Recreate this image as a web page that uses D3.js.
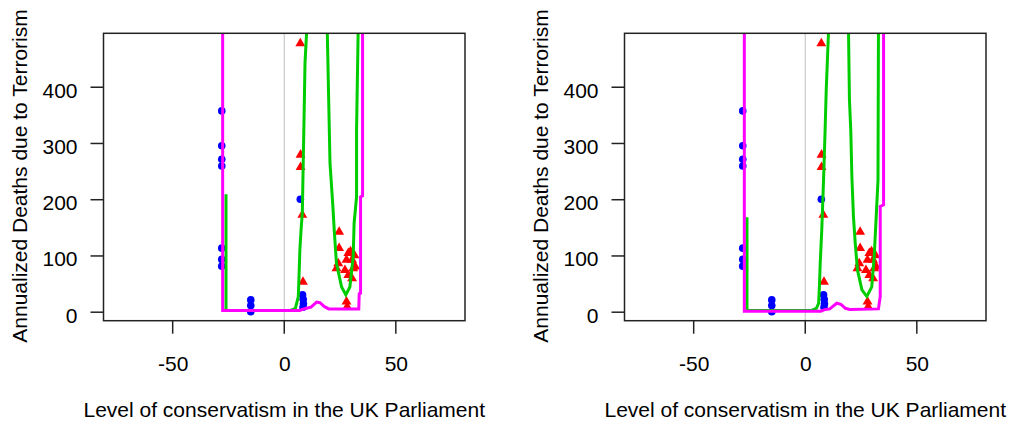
<!DOCTYPE html>
<html>
<head>
<meta charset="utf-8">
<script src="https://cdn.jsdelivr.net/npm/d3@7"></script>
<style>
  body { margin: 0; background: #fff; }
  text { font-family: "Liberation Sans", Arial, sans-serif; fill: #000; }
</style>
</head>
<body>
<div id="chart"></div>
<script>
// Tick labels
const xTicks = [-50, 0, 50];
const yTicks = [0, 100, 200, 300, 400];

// Observed points (same in both panels)
const blueX = [-28, -28, -28, -28, -28, -28, -28, -15, -15, -15, 7.2, 8.2, 8.5, 8.6, 8.4];
const blueY = [357, 295, 271, 259, 113, 93, 81, 21, 11, 0, 200, 30, 22, 14, 8];
const redX = [7.2, 7.3, 7.3, 8.1, 8.4, 24.6, 24.6, 24.2, 23.4, 28.7, 29.7, 27.9, 30.4, 27.2, 28.7, 30.9, 30.4, 27.9, 28.2, 31.5, 31.8];
const redY = [477, 279, 257, 172, 53, 142, 113, 86, 77, 104, 107, 92, 92, 74, 65, 77, 59, 18, 9, 100, 80];

// Fitted curves, left panel
const greenA1 = [[-26.1, 209], [-26.1, 2], [2.5, 2], [5, 6], [6.3, 27], [6.6, 60], [7.0, 110], [7.6, 150], [8.1, 175], [8.3, 220], [8.5, 264], [8.9, 350], [9.3, 442], [10, 495], [10.3, 520]];
const greenB1 = [[19.2, 520], [19.3, 495], [19.7, 418], [20.5, 264], [21.7, 193], [22.4, 145], [23.4, 86], [25.7, 44], [27.6, 30], [29.4, 44], [30.9, 98], [31.3, 157], [32.4, 204], [32.4, 323], [33.1, 495], [33.2, 520]];
const magenta1 = [[-27.6, 520], [-27.6, 2], [7, 2], [8, 4], [10, 6], [12, 8], [14.5, 17], [16, 16], [18, 9], [20, 5], [33.4, 5], [33.6, 32], [34.2, 33], [34.2, 204], [35.1, 206], [35.1, 520]];

// Fitted curves, right panel
const greenA2 = [[-26.1, 168], [-26.1, 2], [2.5, 2], [5, 6], [6.0, 15], [6.4, 50], [6.7, 86], [7.4, 145], [8.2, 234], [8.9, 323], [9.4, 394], [10.4, 495], [10.6, 520]];
const greenB2 = [[19.3, 520], [19.4, 495], [19.8, 377], [20.4, 323], [20.9, 240], [21.6, 169], [22.4, 122], [23.4, 74], [25.4, 39], [27.6, 27], [29.8, 44], [30.9, 98], [31.8, 169], [32.6, 234], [32.8, 495], [32.9, 520]];
const magenta2 = [[-27.3, 520], [-27.3, 1], [7, 1], [9, 4], [11, 5], [14.1, 15], [16, 13], [18, 6], [20, 4], [32.8, 5], [33.6, 27], [33.6, 187], [35.1, 190], [35.1, 520]];

const W = 1010, H = 423;
const font = '"Liberation Sans", Arial, sans-serif';
const svg = d3.select('#chart').append('svg').attr('width', W).attr('height', H);

function panel(offsetX, greenA, greenB, magenta, id) {
    const left = 103.5 + offsetX, right = 465 + offsetX;
    const top = 33.3, bottom = 320.7;

    const x = d3.scaleLinear().domain([-81, 81]).range([left, right]);
    const y = d3.scaleLinear().domain([-16, 495]).range([bottom, top]);

    svg.append('clipPath').attr('id', id)
        .append('rect').attr('x', left).attr('y', top)
        .attr('width', right - left).attr('height', bottom - top);

    const g = svg.append('g').attr('clip-path', `url(#${id})`);

    // zero line
    g.append('line')
        .attr('x1', x(0)).attr('x2', x(0))
        .attr('y1', top).attr('y2', bottom)
        .attr('stroke', '#bebebe').attr('stroke-width', 1);

    // points
    g.selectAll('.blue').data(d3.range(blueX.length)).enter()
        .append('circle')
        .attr('cx', i => x(blueX[i])).attr('cy', i => y(blueY[i]))
        .attr('r', 3.8).attr('fill', '#0000ff');

    g.selectAll('.red').data(d3.range(redX.length)).enter()
        .append('path')
        .attr('d', d3.symbol().type(d3.symbolTriangle).size(42))
        .attr('transform', i => `translate(${x(redX[i])},${y(redY[i])})`)
        .attr('fill', '#ff0000');

    // curves
    const line = d3.line().x(d => x(d[0])).y(d => y(d[1]));
    [[greenA, '#00cd00'], [greenB, '#00cd00'], [magenta, '#ff00ff']].forEach(([pts, col]) => {
        g.append('path').attr('d', line(pts))
            .attr('fill', 'none').attr('stroke', col).attr('stroke-width', 3);
    });

    // box
    svg.append('rect').attr('x', left).attr('y', top)
        .attr('width', right - left).attr('height', bottom - top)
        .attr('fill', 'none').attr('stroke', '#222').attr('stroke-width', 1.5);

    // x axis
    const xAxis = d3.axisBottom(x).tickValues(xTicks).tickSize(13).tickPadding(22).tickFormat(d => String(d));
    const xa = svg.append('g').attr('transform', `translate(0,${bottom})`).call(xAxis);
    xa.select('.domain').remove();
    xa.selectAll('.tick line').remove();
    xa.selectAll('text').attr('font-size', 21).attr('font-family', font).attr('fill', '#000');
    // tick marks drawn explicitly
    svg.append('g').selectAll('line').data(xTicks).enter()
        .append('line')
        .attr('x1', d => x(d)).attr('x2', d => x(d))
        .attr('y1', bottom).attr('y2', bottom + 13)
        .attr('stroke', '#222').attr('stroke-width', 1.5);

    // y axis
    const yAxis = d3.axisLeft(y).tickValues(yTicks).tickSize(13).tickPadding(13).tickFormat(d => String(d));
    const ya = svg.append('g').attr('transform', `translate(${left},0)`).call(yAxis);
    ya.select('.domain').remove();
    ya.selectAll('.tick line').attr('stroke', '#222').attr('stroke-width', 1.5);
    ya.selectAll('text').attr('font-size', 21).attr('dy', '0.5em').attr('font-family', font).attr('fill', '#000');

    // labels
    svg.append('text')
        .attr('x', (left + right) / 2).attr('y', 417)
        .attr('text-anchor', 'middle').attr('font-size', 21)
        .text('Level of conservatism in the UK Parliament');

    svg.append('text')
        .attr('transform', `translate(${27 + offsetX},176) rotate(-90)`)
        .attr('text-anchor', 'middle').attr('font-size', 21)
        .text('Annualized Deaths due to Terrorism');
}

panel(0, greenA1, greenB1, magenta1, 'clipL');
panel(521, greenA2, greenB2, magenta2, 'clipR');
</script>
</body>
</html>
